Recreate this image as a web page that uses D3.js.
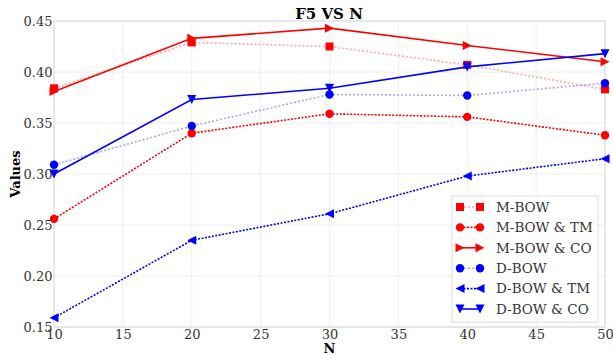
<!DOCTYPE html>
<html>
<head>
<meta charset="utf-8">
<script src="https://cdn.jsdelivr.net/npm/d3@7"></script>
<style>
body { margin: 0; background: #fff; }
text { font-family: "DejaVu Serif", serif; }
</style>
</head>
<body>
<script>
var nValues = [10, 20, 30, 40, 50];
var xTicks = [10, 15, 20, 25, 30, 35, 40, 45, 50];
var yTicks = [0.15, 0.20, 0.25, 0.30, 0.35, 0.40, 0.45];

var mBow     = [0.384, 0.429, 0.425, 0.407, 0.383];
var mBowTm   = [0.256, 0.340, 0.359, 0.356, 0.338];
var mBowCo   = [0.381, 0.433, 0.443, 0.426, 0.410];
var dBow     = [0.309, 0.347, 0.378, 0.377, 0.389];
var dBowTm   = [0.159, 0.235, 0.261, 0.298, 0.315];
var dBowCo   = [0.300, 0.373, 0.384, 0.405, 0.418];

var series = [
	{name: "M-BOW", values: mBow, color: "#ff0000", alpha: 0.35, dash: "2,2", marker: "square"},
	{name: "M-BOW & TM", values: mBowTm, color: "#ff0000", alpha: 1, dash: "2,1.5", marker: "circle"},
	{name: "M-BOW & CO", values: mBowCo, color: "#ff0000", alpha: 1, dash: null, marker: "right"},
	{name: "D-BOW", values: dBow, color: "#0000ff", alpha: 0.35, dash: "2,2", marker: "circle"},
	{name: "D-BOW & TM", values: dBowTm, color: "#0000ff", alpha: 1, dash: "2,1.5", marker: "left"},
	{name: "D-BOW & CO", values: dBowCo, color: "#0000ff", alpha: 1, dash: null, marker: "down"}
];

var width = 613, height = 355;
var margin = {left: 54, right: 8, top: 21, bottom: 28};

var svg = d3.select("body").append("svg")
	.attr("width", width)
	.attr("height", height);

var x = d3.scaleLinear().domain([10, 50]).range([margin.left, width - margin.right]);
var y = d3.scaleLinear().domain([0.15, 0.45]).range([height - margin.bottom, margin.top]);

// grid
svg.append("g").selectAll("line").data(yTicks).enter().append("line")
	.attr("x1", x(10)).attr("x2", x(50))
	.attr("y1", function(d) { return y(d); }).attr("y2", function(d) { return y(d); })
	.attr("stroke", "#eeeeee").attr("stroke-width", 1);
svg.append("g").selectAll("line").data(xTicks).enter().append("line")
	.attr("y1", y(0.15)).attr("y2", y(0.45))
	.attr("x1", function(d) { return x(d); }).attr("x2", function(d) { return x(d); })
	.attr("stroke", "#eeeeee").attr("stroke-width", 1);

// frame
svg.append("rect")
	.attr("x", x(10)).attr("y", y(0.45))
	.attr("width", x(50) - x(10)).attr("height", y(0.15) - y(0.45))
	.attr("fill", "none").attr("stroke", "#dddddd").attr("stroke-width", 1.2);

// axes
var xAxis = svg.append("g")
	.attr("transform", "translate(0," + y(0.15) + ")")
	.call(d3.axisBottom(x).tickValues(xTicks).tickSize(0).tickPadding(3).tickFormat(d3.format("d")));
var yAxis = svg.append("g")
	.attr("transform", "translate(" + x(10) + ",0)")
	.call(d3.axisLeft(y).tickValues(yTicks).tickSize(0).tickPadding(1.5).tickFormat(d3.format(".2f")));
[xAxis, yAxis].forEach(function(a) {
	a.select(".domain").remove();
	a.selectAll("text").attr("font-size", 13).attr("fill", "#333").attr("font-family", "DejaVu Serif");
});

// labels
svg.append("text").attr("x", 329).attr("y", 19).attr("text-anchor", "middle")
	.attr("font-size", 15).attr("font-weight", "bold").text("F5 VS N");
svg.append("text").attr("x", (x(10) + x(50)) / 2).attr("y", 353).attr("text-anchor", "middle")
	.attr("font-size", 13).attr("font-weight", "bold").text("N");
svg.append("text")
	.attr("transform", "translate(20," + ((y(0.15) + y(0.45)) / 2) + ") rotate(-90)")
	.attr("text-anchor", "middle")
	.attr("font-size", 13).attr("font-weight", "bold").text("Values");

function markerPath(type, s) {
	if (type === "square") return "M" + -s + "," + -s + "h" + 2*s + "v" + 2*s + "h" + -2*s + "Z";
	if (type === "circle") return "M" + s + ",0A" + s + "," + s + " 0 1,1 " + -s + ",0A" + s + "," + s + " 0 1,1 " + s + ",0Z";
	if (type === "right") return "M" + s + ",0L" + -s + "," + -s + "L" + -s + "," + s + "Z";
	if (type === "left") return "M" + -s + ",0L" + s + "," + -s + "L" + s + "," + s + "Z";
	if (type === "down") return "M0," + s + "L" + -s + "," + -s + "L" + s + "," + -s + "Z";
}
var markerSize = {square: 4, circle: 4.2, right: 4.5, left: 4.5, down: 4.5};

var line = d3.line()
	.x(function(d, i) { return x(nValues[i]); })
	.y(function(d) { return y(d); });

series.forEach(function(s) {
	var g = svg.append("g");
	g.append("path")
		.attr("d", line(s.values))
		.attr("fill", "none")
		.attr("stroke", s.color)
		.attr("stroke-opacity", s.alpha)
		.attr("stroke-width", 1.6)
		.attr("stroke-dasharray", s.dash);
	g.selectAll("path.m").data(s.values).enter().append("path")
		.attr("class", "m")
		.attr("d", markerPath(s.marker, markerSize[s.marker]))
		.attr("transform", function(d, i) { return "translate(" + x(nValues[i]) + "," + y(d) + ")"; })
		.attr("fill", s.color);
});

// legend
var legend = svg.append("g").attr("transform", "translate(452,196)");
legend.append("rect").attr("width", 146).attr("height", 126)
	.attr("fill", "#fff").attr("fill-opacity", 0.9)
	.attr("stroke", "#dddddd").attr("stroke-width", 1);
series.forEach(function(s, i) {
	var row = legend.append("g").attr("transform", "translate(0," + (11 + i * 20.4) + ")");
	row.append("line").attr("x1", 8).attr("x2", 28)
		.attr("stroke", s.color).attr("stroke-opacity", s.alpha)
		.attr("stroke-width", 1.6).attr("stroke-dasharray", s.dash);
	[8, 28].forEach(function(mx) {
		row.append("path").attr("d", markerPath(s.marker, markerSize[s.marker]))
			.attr("transform", "translate(" + mx + ",0)").attr("fill", s.color);
	});
	row.append("text").attr("x", 44).attr("dy", "0.35em")
		.attr("font-size", 13.5).attr("fill", "#333").text(s.name);
});
</script>
</body>
</html>
